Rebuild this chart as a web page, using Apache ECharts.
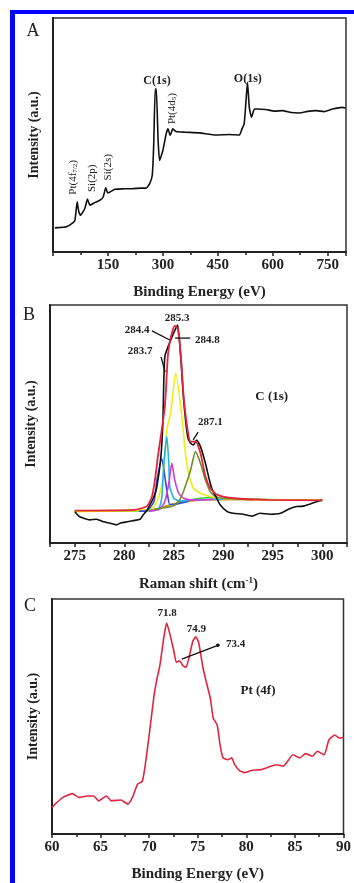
<!DOCTYPE html>
<html>
<head>
<meta charset="utf-8">
<script src="https://cdn.jsdelivr.net/npm/echarts@6/dist/echarts.min.js"></script>
<style>
  html, body { margin: 0; padding: 0; background: #fff; }
  #chart { width: 354px; height: 883px; }
</style>
</head>
<body>
<div id="chart"></div>
<script>
// Panel A: survey spectrum
const surveyX = [5, 20, 37, 55, 60, 66, 70, 75, 87, 94, 101, 115, 128, 137, 144, 150, 169, 195, 218, 240, 255, 264, 271, 275, 279, 282, 287, 291, 300, 309, 314, 320, 327, 336, 360, 400, 445, 480, 509, 516, 522, 527, 531, 536, 542, 550, 557, 581, 605, 627, 650, 672, 695, 718, 740, 763, 790, 799];
const surveyY = [10.3, 10.5, 10.8, 12.6, 13.6, 21.4, 17.5, 15.7, 18.6, 22.6, 20, 21.2, 22.1, 23.5, 27.4, 25.2, 26.8, 27.0, 27.1, 27.3, 27.4, 29.2, 32.8, 46, 69.6, 69.6, 47.7, 39.1, 43.4, 50.5, 52.6, 49.8, 52.6, 51.5, 51.2, 50.9, 50.0, 50.2, 50.0, 52.6, 54.8, 64.7, 72.5, 61.8, 57.6, 61.1, 61.1, 60.9, 60.2, 60.4, 59.6, 59.4, 60.1, 60.4, 60.0, 61.1, 61.8, 61.5];

// Panel B: C 1s fit
const expX = [275.0, 275.4, 275.9, 276.5, 277.2, 277.9, 278.6, 279.2, 279.7, 280.3, 280.9, 281.6, 281.9, 282.2, 282.5, 283.0, 283.3, 283.7, 283.9, 284.1, 284.7, 285.2, 285.4, 285.7, 286.0, 286.4, 286.7, 287.0, 287.3, 287.7, 288.2, 288.6, 288.9, 289.35, 289.7, 290.4, 291.0, 292.0, 292.9, 293.7, 294.7, 295.8, 296.6, 297.4, 298.1, 298.8, 299.5, 300.0];
const expY = [13.2, 11.3, 10.4, 9.7, 10.0, 8.9, 8.3, 7.6, 8.5, 8.9, 9.4, 10.0, 11.8, 13.2, 15.3, 19.5, 23.7, 36.3, 50.3, 78.3, 85.3, 90.2, 91.6, 78.3, 60.1, 44.7, 41.9, 41.2, 43.3, 40.5, 33.5, 26.5, 22.3, 18.8, 16.0, 13.2, 12.5, 12.1, 11.3, 12.5, 12.1, 12.5, 14.2, 15.3, 15.5, 16.4, 17.4, 18.1];
const envX = [275.0, 281.0, 282.3, 282.8, 283.1, 283.4, 283.7, 284.1, 284.4, 284.6, 284.9, 285.1, 285.4, 285.7, 286.0, 286.4, 286.7, 287.2, 287.7, 288.2, 288.7, 289.4, 291.1, 294.5, 300.0];
const envY = [13.6, 13.9, 15.5, 19.5, 26.5, 36.3, 45.0, 57.3, 78.3, 84.5, 89.5, 91.2, 90.2, 79.7, 61.5, 47.5, 42.6, 42.6, 37.7, 27.9, 23.0, 20.2, 18.8, 18.1, 17.9];
const yelX = [275.0, 282.3, 283.0, 283.5, 284.0, 284.3, 284.7, 285.2, 285.9, 286.1, 286.5, 287.0, 287.7, 288.7, 290.0, 294.0, 300.0];
const yelY = [13.2, 13.9, 15.3, 19.5, 29.3, 47.5, 55.0, 71.3, 50.3, 40.5, 29.3, 23.0, 20.9, 19.5, 18.6, 18.2, 17.9];
const bluX = [281.5, 282.3, 283.0, 283.3, 283.8, 284.1, 284.4, 284.6, 285.2, 286.5];
const bluY = [13.4, 13.6, 17.4, 26.5, 35.4, 27.9, 19.5, 16.2, 16.3, 17.6];
const cyaX = [282.5, 283.0, 283.5, 283.8, 284.0, 284.3, 284.5, 284.6, 285.0, 285.6, 287.0, 290.0];
const cyaY = [13.5, 13.8, 14.6, 19.5, 33.5, 44.7, 33.5, 23.7, 18.8, 17.6, 18.2, 18.4];
const magX = [282.5, 283.0, 283.6, 284.1, 284.5, 284.8, 285.1, 285.5, 286.0, 287.0, 289.0];
const magY = [13.4, 13.6, 14.2, 17.4, 25.1, 33.5, 26.5, 20.9, 18.8, 18.0, 18.4];
const oliX = [283.0, 284.0, 285.0, 285.6, 286.1, 286.7, 287.2, 287.7, 288.2, 288.7, 289.2, 290.0, 293.0];
const oliY = [14.0, 14.8, 15.6, 18.1, 23.0, 30.7, 38.4, 33.5, 26.5, 21.5, 19.6, 18.8, 18.2];
const grnX = [275.0, 282.2, 283.6, 285.0, 286.3, 287.7, 288.7, 290.0, 300.0];
const grnY = [13.4, 13.4, 14.6, 16.4, 17.8, 18.8, 19.1, 18.6, 17.9];
const ornX = [275.0, 282.0, 283.5, 285.0, 287.0, 290.0, 300.0];
const ornY = [13.6, 13.7, 14.6, 16.5, 17.8, 18.2, 18.0];

// Panel C: Pt 4f
const ptX = [60.0, 60.5, 61.1, 62.1, 62.8, 63.6, 64.3, 64.8, 65.6, 66.1, 67.1, 67.8, 68.3, 68.8, 69.3, 69.6, 70.0, 70.5, 70.8, 71.1, 71.5, 71.8, 72.1, 72.5, 72.8, 73.1, 73.5, 73.8, 74.1, 74.5, 74.8, 75.1, 75.5, 75.8, 76.3, 76.6, 77.0, 77.3, 77.6, 78.1, 78.5, 78.8, 79.3, 79.8, 80.5, 81.5, 82.1, 83.1, 83.8, 84.8, 85.5, 86.1, 86.8, 87.3, 88.0, 88.5, 89.1, 89.6, 90.0];
const ptY = [11.3, 13.4, 15.5, 17.2, 15.5, 16.2, 16.2, 14.1, 16.2, 14.1, 14.5, 12.7, 15.8, 21.1, 22.5, 29.5, 42.1, 58.9, 66.0, 71.6, 83.5, 89.8, 85.6, 78.6, 73.0, 73.7, 71.6, 70.9, 75.1, 82.1, 83.9, 81.4, 71.6, 66.0, 57.6, 49.2, 46.4, 37.8, 32.4, 31.6, 32.4, 29.5, 27.0, 26.1, 27.0, 27.4, 28.2, 29.5, 28.8, 33.7, 32.4, 34.2, 33.1, 35.2, 33.7, 40.0, 42.1, 40.8, 41.2];

const FONT = '"Liberation Serif", "Times New Roman", serif';
const INK = '#222';
const pairs = (xs, ys) => xs.map((x, i) => [x, ys[i]]);

const chart = echarts.init(document.getElementById('chart'));

function xAxisBase(grid, min, max, interval, name, fmt, minor) {
  return {
    type: 'value', gridIndex: grid, min: min, max: max, interval: interval,
    name: name, nameLocation: 'middle', nameGap: 33,
    nameTextStyle: { fontFamily: FONT, fontWeight: 'bold', fontSize: 15, color: INK,
      rich: { sup: { fontFamily: FONT, fontWeight: 'bold', fontSize: 9, color: INK, verticalAlign: 'top', padding: [0, 0, 8, 0] } } },
    axisLine: { show: true, onZero: false, lineStyle: { color: INK, width: 2 } },
    axisTick: { show: true, inside: false, length: 4, lineStyle: { color: INK, width: 1.5 } },
    minorTick: { show: !!minor, splitNumber: 2, length: 3, lineStyle: { color: INK, width: 1.5 } },
    splitLine: { show: false },
    axisLabel: { fontFamily: FONT, fontWeight: 'bold', fontSize: 15, color: INK, margin: 6, formatter: fmt,
      showMinLabel: true, showMaxLabel: true }
  };
}
function yAxisBase(grid) {
  return {
    type: 'value', gridIndex: grid, min: 0, max: 100,
    name: 'Intensity (a.u.)', nameLocation: 'middle', nameGap: 12,
    nameTextStyle: { fontFamily: FONT, fontWeight: 'bold', fontSize: 14, color: INK },
    axisLine: { show: true, onZero: false, lineStyle: { color: INK, width: 2 } },
    axisTick: { show: false }, axisLabel: { show: false }, splitLine: { show: false }
  };
}
function line(grid, data, color, width, z, smooth) {
  return { type: 'line', xAxisIndex: grid, yAxisIndex: grid, data: data, showSymbol: false, symbol: 'none',
    smooth: smooth === undefined ? 0.2 : smooth, lineStyle: { color: color, width: width }, z: z || 2, animation: false };
}

const gridStyle = { show: true, borderColor: '#333', borderWidth: 1.5, backgroundColor: 'transparent' };

chart.setOption({
  backgroundColor: '#fff',
  animation: false,
  grid: [
    Object.assign({ left: 53, top: 18, width: 293, height: 234 }, gridStyle),
    Object.assign({ left: 50, top: 305, width: 297, height: 238 }, gridStyle),
    Object.assign({ left: 52, top: 599, width: 299, height: 238 }, gridStyle)
  ],
  xAxis: [
    xAxisBase(0, 0, 800, 150, 'Binding Energy (eV)', v => (v > 0 && v % 150 === 0) ? String(v) : '', true),
    xAxisBase(1, 272.5, 302.5, 2.5, 'Raman shift (cm{sup|-1})', v => {
      const k = v / 5; return Math.abs(k - Math.round(k)) < 1e-6 ? String(Math.round(v)) : '';
    }, false),
    xAxisBase(2, 60, 90, 5, 'Binding Energy (eV)', v => String(v), true)
  ],
  yAxis: [yAxisBase(0), yAxisBase(1), yAxisBase(2)],
  series: [
    line(0, pairs(surveyX, surveyY), '#111', 1.6, 2, 0.15),
    line(1, pairs(grnX, grnY), '#3ccc3c', 1.5, 2),
    line(1, pairs(ornX, ornY), '#e0922a', 1.5, 3),
    line(1, pairs(yelX, yelY), '#eeee10', 1.6, 4),
    line(1, pairs(bluX, bluY), '#2f4fe0', 1.6, 5),
    line(1, pairs(cyaX, cyaY), '#1fb6e0', 1.6, 5),
    line(1, pairs(magX, magY), '#d23cd0', 1.6, 5),
    line(1, pairs(oliX, oliY), '#6f8f2a', 1.6, 5),
    line(1, pairs(expX, expY), '#111', 1.6, 6),
    line(1, pairs(envX, envY), '#e3243e', 1.8, 7),
    line(2, pairs(ptX, ptY), '#e3243e', 1.6, 2, 0.15)
  ]
});

// annotations anchored in data space
const p = (g, x, y) => chart.convertToPixel({ gridIndex: g }, [x, y]);
function txt(g, x, y, text, size, weight, rot, rich) {
  const q = p(g, x, y);
  return { type: 'text', x: q[0], y: q[1], rotation: rot || 0, z: 20,
    style: { text: text, fill: INK, font: (weight || 'bold') + ' ' + size + 'px ' + FONT,
      align: 'center', verticalAlign: 'middle', rich: rich } };
}
function seg(g, a, b) {
  const s = p(g, a[0], a[1]), e = p(g, b[0], b[1]);
  return { type: 'line', z: 20, shape: { x1: s[0], y1: s[1], x2: e[0], y2: e[1] }, style: { stroke: '#111', lineWidth: 1.3 } };
}
const subRich = { s: { fontFamily: FONT, fontSize: 7, verticalAlign: 'bottom', fill: INK } };

chart.setOption({
  graphic: [
    { type: 'rect', shape: { x: 10, y: 10, width: 344, height: 4 }, style: { fill: '#0000ff' }, z: 30 },
    { type: 'rect', shape: { x: 10, y: 10, width: 5, height: 873 }, style: { fill: '#0000ff' }, z: 30 },
    { type: 'text', x: 33, y: 31, style: { text: 'A', font: '18px ' + FONT, fill: INK, align: 'center', verticalAlign: 'middle' } },
    { type: 'text', x: 29, y: 315, style: { text: 'B', font: '18px ' + FONT, fill: INK, align: 'center', verticalAlign: 'middle' } },
    { type: 'text', x: 30, y: 606, style: { text: 'C', font: '18px ' + FONT, fill: INK, align: 'center', verticalAlign: 'middle' } },

    txt(0, 284, 73.2, 'C(1s)', 12),
    txt(0, 532, 74, 'O(1s)', 12),
    txt(0, 325, 61.3, 'Pt(4d{s|5})', 11, 'normal', Math.PI / 2, subRich),
    txt(0, 55, 31.9, 'Pt(4f{s|7/2})', 11, 'normal', Math.PI / 2, subRich),
    txt(0, 106, 31.5, 'Si(2p)', 11, 'normal', Math.PI / 2),
    txt(0, 150, 36.2, 'Si(2s)', 11, 'normal', Math.PI / 2),

    txt(1, 285.34, 94.5, '285.3', 11),
    txt(1, 281.3, 89.5, '284.4', 11),
    txt(1, 288.4, 85.3, '284.8', 11),
    txt(1, 281.6, 80.7, '283.7', 11),
    txt(1, 288.7, 50.8, '287.1', 11),
    txt(1, 294.9, 61.3, 'C (1s)', 13),
    seg(1, [283.72, 78.2], [284.13, 71.8]),
    seg(1, [282.8, 89.1], [284.6, 85.3]),
    seg(1, [286.66, 86.1], [285.14, 86.1]),
    seg(1, [287.46, 46.6], [286.96, 43.3]),

    txt(2, 71.85, 94.1, '71.8', 11),
    txt(2, 74.86, 87.0, '74.9', 11),
    txt(2, 78.9, 80.7, '73.4', 11),
    seg(2, [73.35, 74.4], [77.07, 80.3]),
    (function () { const q = p(2, 77.07, 80.3); return { type: 'circle', z: 20, shape: { cx: q[0], cy: q[1], r: 1.8 }, style: { fill: '#111' } }; })(),
    txt(2, 81.2, 60.9, 'Pt (4f)', 13)
  ]
});
</script>
</body>
</html>
